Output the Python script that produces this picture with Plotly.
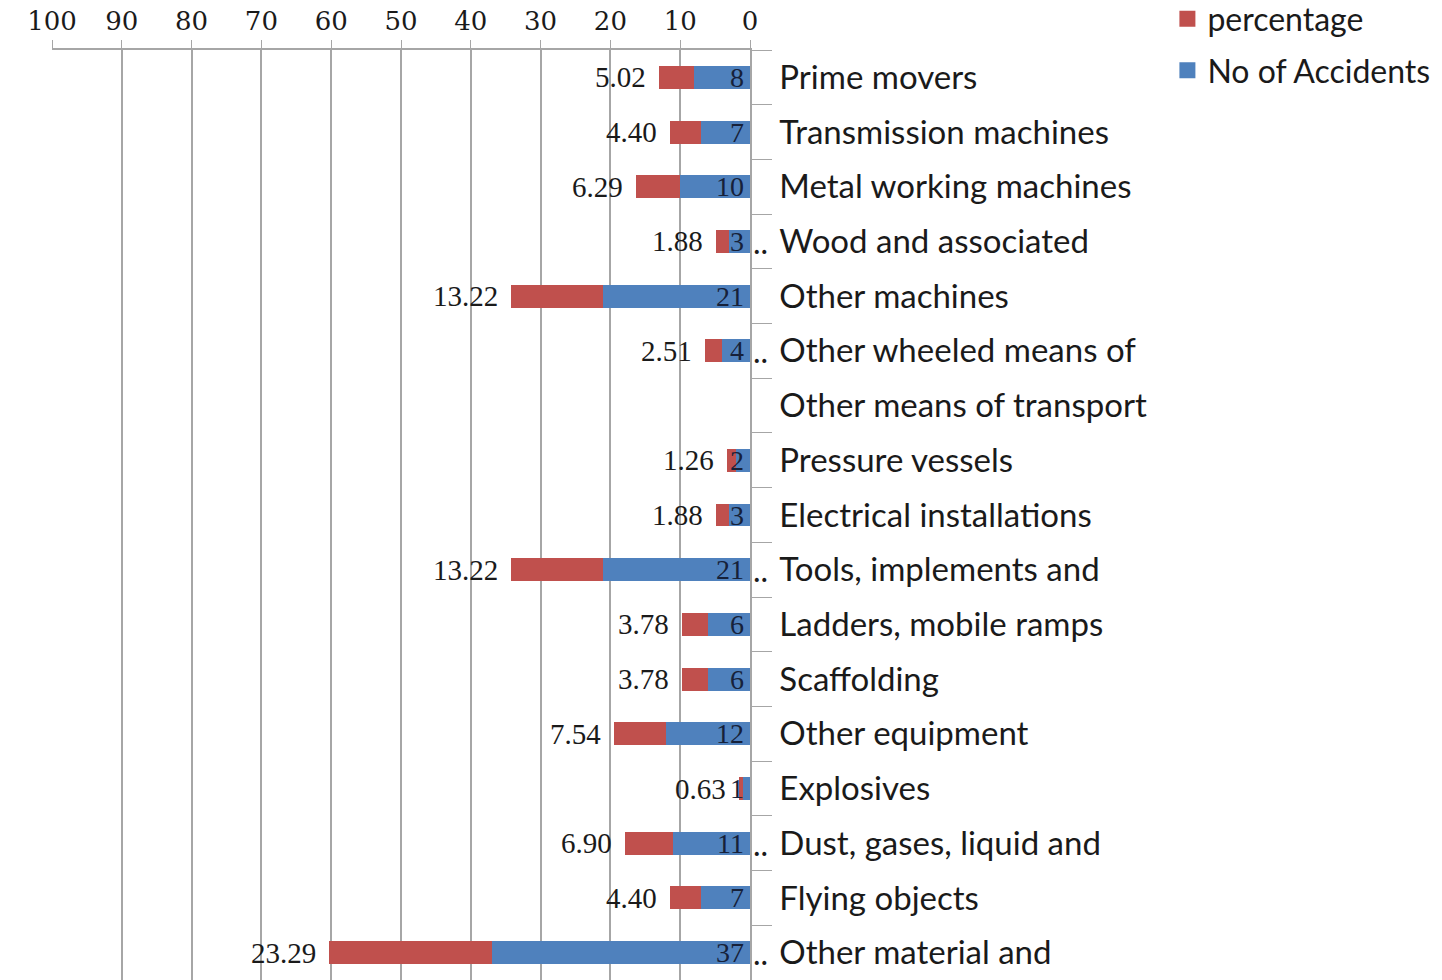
import plotly.graph_objects as go

categories = ["Prime movers", "Transmission machines", "Metal working machines",
              "Wood and associated", "Other machines", "Other wheeled means of",
              "Other means of transport", "Pressure vessels", "Electrical installations",
              "Tools, implements and", "Ladders, mobile ramps", "Scaffolding",
              "Other equipment", "Explosives", "Dust, gases, liquid and",
              "Flying objects", "Other material and"]
accidents = [8, 7, 10, 3, 21, 4, None, 2, 3, 21, 6, 6, 12, 1, 11, 7, 37]
percentage = [5.02, 4.40, 6.29, 1.88, 13.22, 2.51, None, 1.26, 1.88, 13.22,
              3.78, 3.78, 7.54, 0.63, 6.90, 4.40, 23.29]
truncated = [False, False, False, True, False, True, False, False, False, True,
             False, False, False, False, True, False, True]
x_ticks = [100, 90, 80, 70, 60, 50, 40, 30, 20, 10, 0]

BLUE = "#4F81BD"
RED = "#C0504D"
LABEL_FONT = "Lato"
NUM_FONT = "Liberation Serif"

fig = go.Figure()
fig.add_trace(go.Bar(
    y=categories, x=accidents, orientation="h", name="No of Accidents",
    marker=dict(color=BLUE, line=dict(width=0)), showlegend=False,
))
fig.add_trace(go.Bar(
    y=categories, x=percentage, orientation="h", name="percentage",
    marker=dict(color=RED, line=dict(width=0)), showlegend=False,
))

annotations = []
for cat, a, p in zip(categories, accidents, percentage):
    if a is None or p is None:
        continue
    # count, just inside the bar base
    annotations.append(dict(
        x=0, y=cat, xref="x", yref="y", text=str(a), showarrow=False,
        xanchor="right", yanchor="middle", xshift=-4,
        font=dict(family=NUM_FONT, size=28, color="#16213a"),
    ))
    # percentage, outside the stacked bar end
    annotations.append(dict(
        x=a + p, y=cat, xref="x", yref="y", text=f"{p:.2f}", showarrow=False,
        xanchor="right", yanchor="middle", xshift=-11,
        font=dict(family=NUM_FONT, size=29, color="#1a1a1a"),
    ))
for cat, t in zip(categories, truncated):
    if t:
        annotations.append(dict(
            x=0, y=cat, xref="x", yref="y", text="..", showarrow=False,
            xanchor="left", yanchor="middle", xshift=1, yshift=0,
            font=dict(family=LABEL_FONT, size=32, color="#1a1a1a"),
        ))

# legend entries (square swatches)
for nm, col, grp in [("percentage", RED, "a"), ("No of Accidents", BLUE, "b")]:
    fig.add_trace(go.Scatter(
        x=[None], y=[None], mode="markers", name=nm, legendgroup=grp,
        marker=dict(symbol="square", size=19, color=col),
        showlegend=True,
    ))

fig.update_layout(
    barmode="stack", bargap=0.58,
    width=1442, height=980,
    margin=dict(l=52, r=692, t=50, b=0, autoexpand=False),
    paper_bgcolor="white", plot_bgcolor="white",
    showlegend=True,
    annotations=annotations,
    legend=dict(x=1.598, y=1.063, xanchor="left", yanchor="top",
                traceorder="grouped",
                font=dict(family=LABEL_FONT, size=32, color="#1a1a1a"),
                itemwidth=30, tracegroupgap=7, bgcolor="rgba(0,0,0,0)"),
    xaxis=dict(range=[100, 0], side="top", tickvals=x_ticks,
               ticktext=[str(v) for v in x_ticks],
               showgrid=True, gridcolor="#a6a6a6", gridwidth=1.5,
               showline=True, linecolor="#a6a6a6", linewidth=1.5,
               ticks="outside", ticklen=8, tickcolor="#a6a6a6",
               tickfont=dict(family="DejaVu Serif", size=26, color="#1a1a1a"),
               zeroline=False, fixedrange=True, automargin=False),
    yaxis=dict(categoryorder="array", categoryarray=categories,
               range=[16.5, -0.5], side="right",
               showline=True, linecolor="#a6a6a6", linewidth=1.5,
               ticks="outside", tickson="boundaries", ticklen=20, tickcolor="#a6a6a6",
               ticklabelstandoff=21,
               tickfont=dict(family=LABEL_FONT, size=33, color="#1a1a1a"),
               showgrid=False, zeroline=False, fixedrange=True, automargin=False),
)

fig.write_html("out.html", config={"displayModeBar": False},
               post_script="document.body.style.margin='0';document.body.style.overflow='hidden';")
